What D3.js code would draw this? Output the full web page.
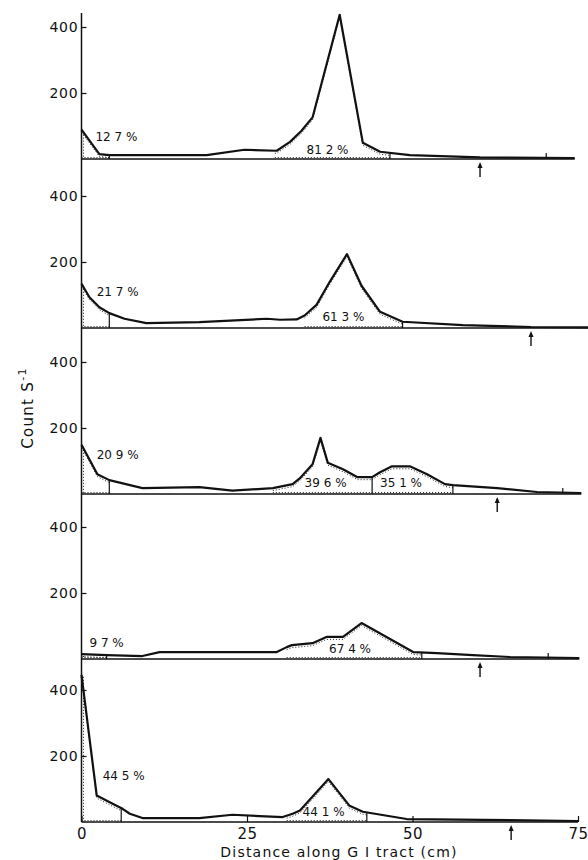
<!DOCTYPE html>
<html>
<head>
<meta charset="utf-8">
<script src="https://cdnjs.cloudflare.com/ajax/libs/d3/7.8.5/d3.min.js"></script>
<style>
body { margin: 0; background: #fff; }
svg text { font-family: "DejaVu Sans", sans-serif; fill: #111; }
</style>
</head>
<body>
<svg width="588" height="860"></svg>
<script>
// distance along tract (cm) and count per second, one pair per panel
var dist1 = [0, 2.7, 4.2, 10, 18.9, 24.6, 29.5, 31.5, 33.2, 34.9, 39.0, 42.5, 45.1, 49.6, 60.2, 74.5];
var count1 = [89, 15, 12, 12, 12, 28, 25, 52, 85, 126, 437, 49, 22, 12, 5, 3];

var dist2 = [0, 1.2, 2.7, 4.2, 6.5, 9.8, 17.8, 28.0, 30.0, 32.5, 33.7, 35.5, 37.5, 40.1, 42.3, 45.1, 48.5, 57.6, 67.9, 76.7];
var count2 = [134, 93, 63, 45, 28, 15, 18, 28, 25, 26, 38, 70, 140, 224, 128, 49, 19, 9, 3, 2];

var dist3 = [0, 2.4, 4.2, 9.2, 17.8, 22.8, 28.9, 31.9, 33.0, 34.9, 36.1, 37.2, 39.5, 41.7, 43.9, 45.1, 46.9, 49.6, 52.2, 54.9, 56.1, 62.8, 68.8, 75.5];
var count3 = [149, 60, 42, 18, 21, 10, 18, 30, 48, 90, 170, 95, 75, 51, 51, 66, 84, 84, 60, 30, 27, 18, 6, 3];

var dist4 = [0, 3.8, 9.2, 11.8, 29.5, 31.0, 31.8, 34.9, 37.0, 39.5, 42.3, 50.1, 53.7, 59.1, 64.7, 75.2];
var count4 = [15, 12, 9, 21, 21, 36, 42, 48, 67, 67, 109, 21, 18, 12, 6, 3];

var dist5 = [0, 2.3, 4.7, 6.2, 7.3, 9.2, 17.8, 22.8, 26.9, 30.4, 31.9, 33.0, 37.3, 40.5, 42.5, 49.1, 75];
var count5 = [446, 80, 55, 40, 25, 12, 12, 22, 18, 15, 25, 35, 130, 49, 31, 9, 3];

// percentage labels and where they sit (cm, count)
var pctLabels = [["12 7 %", "81 2 %"], ["21 7 %", "61 3 %"], ["20 9 %", "39 6 %", "35 1 %"], ["9 7 %", "67 4 %"], ["44 5 %", "44 1 %"]];
var labelDist = [[2.1, 34.0], [2.3, 36.4], [2.3, 33.7, 45.1], [1.2, 37.4], [3.2, 33.4]];
var labelCount = [[55, 15], [98, 21], [107, 21, 21], [36, 18], [126, 18]];

// integrated regions (cm)
var regions = [
  [[0, 4.2], [29.2, 46.6]],
  [[0, 4.2], [33.7, 48.5]],
  [[0, 4.2], [28.9, 43.9], [43.9, 56.1]],
  [[0, 3.8], [31.0, 51.4]],
  [[0, 6.0], [31.0, 43.1]]
];

var arrowCm = [60.2, 67.9, 62.8, 60.2, 64.9];
var endTickCm = [70.2, null, 72.7, 70.5, null];
var yTicks = [200, 400];
var xTicks = [0, 25, 50, 75];

var dists = [dist1, dist2, dist3, dist4, dist5];
var counts = [count1, count2, count3, count4, count5];

var svg = d3.select("svg");
var bases = [159, 328, 494, 659, 822];
var span = 132; // px for 400 counts

var x = d3.scaleLinear().domain([0, 75]).range([81.5, 578]);

function valueAt(ds, cs, c) {
  for (var i = 1; i < ds.length; i++) {
    if (c <= ds[i]) {
      var t = (c - ds[i - 1]) / (ds[i] - ds[i - 1]);
      return cs[i - 1] + t * (cs[i] - cs[i - 1]);
    }
  }
  return cs[cs.length - 1];
}

// continuous vertical axis
svg.append("line")
  .attr("x1", x(0)).attr("x2", x(0))
  .attr("y1", 13).attr("y2", bases[4])
  .style("stroke", "#111").style("stroke-width", 1.5);

// y label
svg.append("text")
  .attr("transform", "translate(33,408)rotate(-90)")
  .attr("text-anchor", "middle")
  .style("font-size", "15px")
  .style("letter-spacing", "1.3px")
  .html('Count S<tspan dy="-7" font-size="11">-1</tspan>');

// x label
svg.append("text")
  .attr("x", 339).attr("y", 857)
  .attr("text-anchor", "middle")
  .style("font-size", "14px")
  .style("letter-spacing", "1.2px")
  .text("Distance along G I tract (cm)");

dists.forEach(function (ds, p) {
  var cs = counts[p];
  var base = bases[p];
  var y = d3.scaleLinear().domain([0, 400]).range([base, base - span]);
  var g = svg.append("g");
  var pts = ds.map(function (d, i) { return [d, cs[i]]; });

  // baseline
  g.append("line")
    .attr("x1", x(0)).attr("x2", x(ds[ds.length - 1]))
    .attr("y1", base).attr("y2", base)
    .style("stroke", "#111").style("stroke-width", 1.4);

  // y ticks
  g.append("g")
    .attr("transform", "translate(" + x(0) + ",0)")
    .call(d3.axisLeft(y).tickValues(yTicks).tickSizeInner(-5).tickSizeOuter(0).tickPadding(3))
    .call(function (a) { a.select(".domain").remove(); })
    .call(function (a) {
      a.selectAll("line").style("stroke", "#111").style("stroke-width", 1.2);
      a.selectAll("text").attr("font-family", null).style("font-size", "14px").style("letter-spacing", "0.8px");
    });

  // dotted integrated regions
  regions[p].forEach(function (r) {
    var seg = [[r[0], valueAt(ds, cs, r[0])]];
    pts.forEach(function (q) { if (q[0] > r[0] && q[0] < r[1]) seg.push(q); });
    seg.push([r[1], valueAt(ds, cs, r[1])]);
    g.append("path")
      .attr("d", d3.line().x(function (d) { return x(d[0]); }).y(function (d) { return y(d[1]) + 2.5; })(seg))
      .style("fill", "none").style("stroke", "#222").style("stroke-width", 1)
      .style("stroke-dasharray", "1,2");
    g.append("line")
      .attr("x1", x(r[0])).attr("x2", x(r[1]))
      .attr("y1", base - 1.5).attr("y2", base - 1.5)
      .style("stroke", "#222").style("stroke-width", 1).style("stroke-dasharray", "1,2");
    if (r[0] === 0) {
      g.append("line")
        .attr("x1", x(0) + 2).attr("x2", x(0) + 2)
        .attr("y1", y(cs[0]) + 2).attr("y2", base)
        .style("stroke", "#222").style("stroke-width", 1).style("stroke-dasharray", "1,2");
    }
    g.append("line")
      .attr("x1", x(r[1])).attr("x2", x(r[1]))
      .attr("y1", y(valueAt(ds, cs, r[1]))).attr("y2", base)
      .style("stroke", "#111").style("stroke-width", 1.2);
  });

  // profile
  g.append("path")
    .datum(pts)
    .attr("d", d3.line().x(function (d) { return x(d[0]); }).y(function (d) { return y(d[1]); }))
    .style("fill", "none").style("stroke", "#111").style("stroke-width", 2.2)
    .style("stroke-linejoin", "round");

  // labels
  pctLabels[p].forEach(function (t, i) {
    g.append("text")
      .attr("x", x(labelDist[p][i])).attr("y", y(labelCount[p][i]))
      .style("font-size", "12px")
      .text(t);
  });

  // arrow under baseline
  var ax = x(arrowCm[p]);
  g.append("line")
    .attr("x1", ax).attr("x2", ax).attr("y1", base + 5).attr("y2", base + 18)
    .style("stroke", "#111").style("stroke-width", 1.4);
  g.append("path")
    .attr("d", "M" + (ax - 2.5) + "," + (base + 9) + "L" + ax + "," + (base + 3) + "L" + (ax + 2.5) + "," + (base + 9) + "Z")
    .style("fill", "#111");

  if (endTickCm[p] !== null) {
    g.append("line")
      .attr("x1", x(endTickCm[p])).attr("x2", x(endTickCm[p]))
      .attr("y1", base).attr("y2", base - 6)
      .style("stroke", "#111").style("stroke-width", 1.2);
  }

  if (p === 4) {
    g.append("g")
      .attr("transform", "translate(0," + base + ")")
      .call(d3.axisBottom(x).tickValues(xTicks).tickSizeInner(-6).tickSizeOuter(0).tickPadding(6))
      .call(function (a) { a.select(".domain").remove(); })
      .call(function (a) {
        a.selectAll("line").style("stroke", "#111").style("stroke-width", 1.2);
        a.selectAll("text").attr("font-family", null).style("font-size", "15px").style("letter-spacing", "0.5px");
      });
  }
});
</script>
</body>
</html>
